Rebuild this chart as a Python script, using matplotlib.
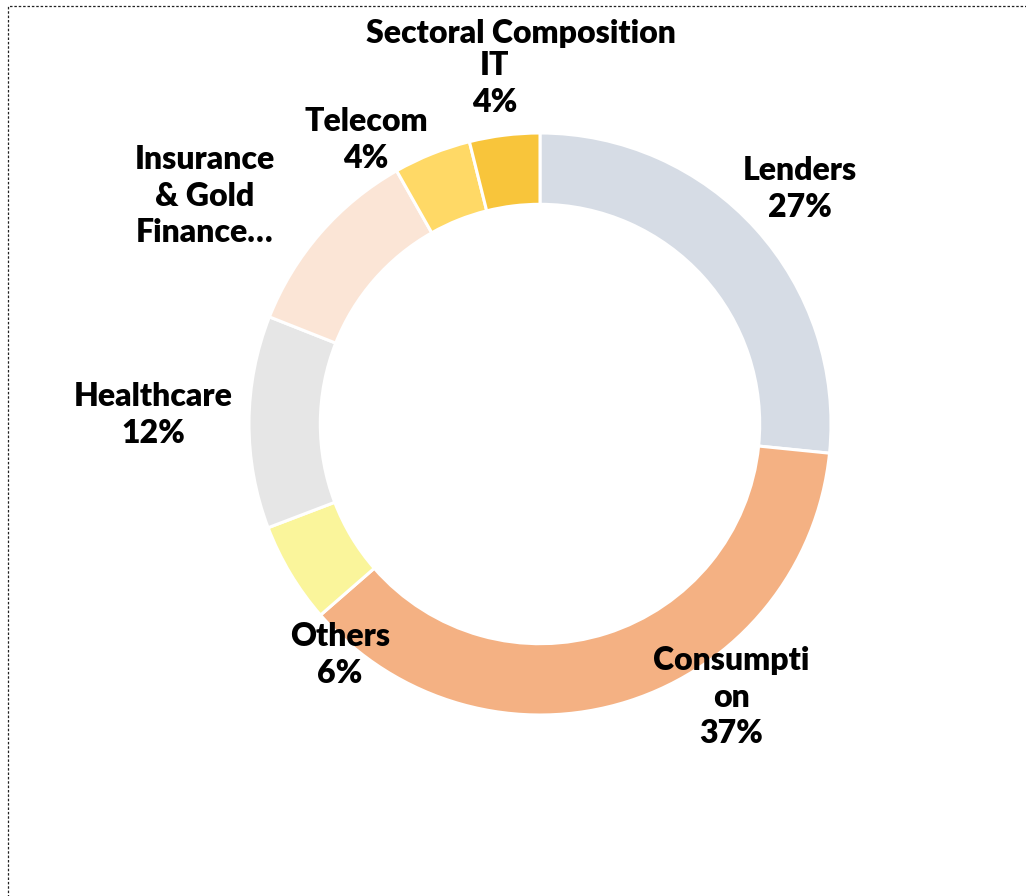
import matplotlib
matplotlib.use("Agg")
import matplotlib.pyplot as plt
from matplotlib.patches import Rectangle

categories = ["Lenders", "Consumpti\non", "Others", "Healthcare",
              "Insurance\n& Gold\nFinance…", "Telecom", "IT"]
values = [26.6, 37.0, 5.6, 11.8, 10.8, 4.3, 3.9]
show_pct = [True, True, True, True, False, True, True]
colors = ["#D6DCE5", "#F4B183", "#FAF59B", "#E6E6E6", "#FBE5D6", "#FFD966", "#F8C53B"]

# label anchor positions (pixel coords in the 1026x896 canvas)
label_px = [(800, 189), (731, 697), (340, 655), (153, 415),
            (205, 196), (366, 140), (495, 84)]

W, H = 1026, 896
fig = plt.figure(figsize=(W / 100, H / 100), dpi=100)
cx, cy, R = 540, 424, 291
ax = fig.add_axes([(cx - R) / W, (H - cy - R) / H, 2 * R / W, 2 * R / H])

ax.pie(values, colors=colors, startangle=90, counterclock=False, radius=1.0,
       wedgeprops=dict(width=0.245, edgecolor="white", linewidth=2.2))
ax.set_xlim(-1, 1)
ax.set_ylim(-1, 1)
ax.set_aspect("equal")
ax.axis("off")

font = dict(family=["Lato", "DejaVu Sans"], fontweight="heavy", fontsize=23, color="black")
tot = sum(values)
for cat, v, sp, (px, py) in zip(categories, values, show_pct, label_px):
    txt = cat + (f"\n{round(v / tot * 100):.0f}%" if sp else "")
    fig.text(px / W, 1 - py / H, txt, ha="center", va="center",
             linespacing=1.32, **font)

fig.text(521 / W, 1 - 33 / H, "Sectoral Composition", ha="center", va="center", **font)

fig.patches.append(Rectangle((8 / W, -0.1), 1.2, 1 - 6 / H + 0.1, transform=fig.transFigure,
                             fill=False, edgecolor="#222222", linewidth=0.9,
                             linestyle=(0, (2, 1.5))))

fig.savefig("out.png", dpi=100)
